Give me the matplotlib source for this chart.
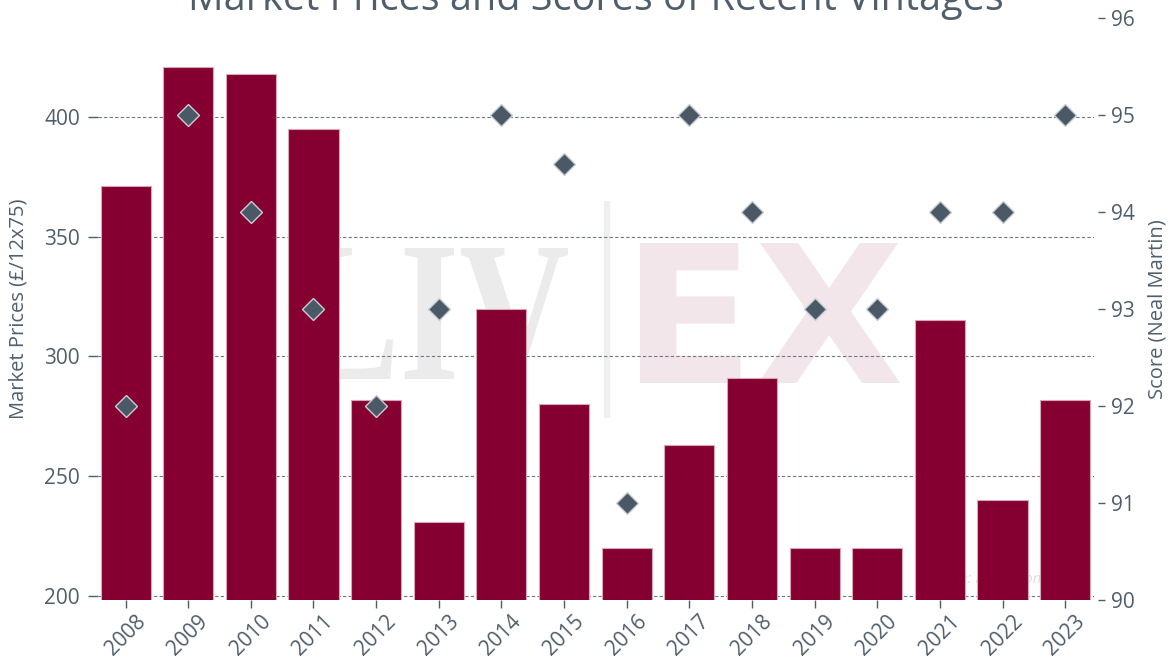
import matplotlib
matplotlib.use("Agg")
import matplotlib.pyplot as plt
from matplotlib.textpath import TextPath
from matplotlib.patches import PathPatch
from matplotlib.font_manager import FontProperties
from matplotlib.transforms import Affine2D

# vintage data
years = ["2008", "2009", "2010", "2011", "2012", "2013", "2014", "2015",
         "2016", "2017", "2018", "2019", "2020", "2021", "2022", "2023"]
prices = [371, 421, 418, 395, 282, 231, 320, 280,
          220, 263, 291, 220, 220, 315, 240, 282]
scores = [92, 95, 94, 93, 92, 93, 95, 94.5,
          91, 95, 94, 93, 93, 94, 94, 95]
price_ticks = [200, 250, 300, 350, 400]
score_ticks = [90, 91, 92, 93, 94, 95, 96]

text_col = "#505e6b"
bar_col = "#850030"
dot_col = "#4a5965"

plt.rcParams["font.family"] = ["Open Sans", "DejaVu Sans"]

fig = plt.figure(figsize=(11.7, 6.71), dpi=100)
ax = fig.add_axes([98 / 1170, 1 - 600 / 671, (1094 - 98) / 1170, 582 / 671])
ax2 = ax.twinx()

x = list(range(len(years)))


def watermark(text, prop, box, color):
    # squeeze a text outline into a box given in axes fractions (x0, y0, x1, y1)
    tp = TextPath((0, 0), text, size=1, prop=prop)
    ext = tp.get_extents()
    sx = (box[2] - box[0]) / ext.width
    sy = (box[3] - box[1]) / ext.height
    tr = Affine2D().translate(-ext.x0, -ext.y0).scale(sx, sy).translate(box[0], box[1])
    ax.add_patch(PathPatch(tp, transform=tr + ax.transAxes, color=color,
                           lw=0, zorder=0))


def frac(px, py):
    return (px - 98) / 996, (600 - py) / 582


lx0, ly0 = frac(300, 382)
lx1, ly1 = frac(568, 248)
watermark("LIV", FontProperties(family="Liberation Serif", weight="bold"),
          (lx0, ly0, lx1, ly1), "#ebebeb")
ex0, ey0 = frac(640, 383)
ex1, ey1 = frac(900, 243)
watermark("EX", FontProperties(family="DejaVu Sans", weight="bold"),
          (ex0, ey0, ex1, ey1), "#f3e6ea")
ax.plot([0.511, 0.511], [0.313, 0.685], transform=ax.transAxes, color="#efeff1",
        lw=4.5, zorder=0, solid_capstyle="butt")
ax.text(0.89, 0.035, "Source: Liv-ex.com", transform=ax.transAxes, fontsize=11,
        style="italic", color="#dcdcdc", ha="center", va="center", zorder=0)

ax.bar(x, prices, width=0.8, color=bar_col, edgecolor="#d8a5b5", linewidth=0.8,
       bottom=0, zorder=2)
ax.set_ylim(198.3, 441.3)
ax.set_xlim(-0.44, 15.46)
ax.set_yticks(price_ticks)
ax.set_xticks(x)
ax.set_xticklabels(years, rotation=45)
ax.grid(axis="y", color="#6f7882", linestyle=(0, (3, 2)), linewidth=0.8, zorder=1)
ax.set_axisbelow(True)
ax.tick_params(axis="y", length=7, width=1, color=text_col, labelcolor=text_col,
               labelsize=15, pad=6)
ax.tick_params(axis="x", length=6, width=1, color=text_col, labelcolor=text_col,
               labelsize=15, pad=2)
ax.set_ylabel("Market Prices (£/12x75)", color=text_col, fontsize=14.5, labelpad=11)

ax2.plot(x, scores, linestyle="none", marker="D", markersize=11,
         color=dot_col, markeredgecolor="#c8ced4", markeredgewidth=1, zorder=3)
ax2.set_ylim(90, 96)
ax2.set_yticks(score_ticks)
ax2.tick_params(axis="y", length=5, width=1, color=text_col, labelcolor=text_col,
                labelsize=15, pad=4)
ax2.spines["right"].set_position(("outward", 3))
ax2.set_ylabel("Score (Neal Martin)", color=text_col, fontsize=14.5, labelpad=9)

for a in (ax, ax2):
    for s in a.spines.values():
        s.set_visible(False)

fig.text(0.509, 1 - 10 / 671, "Market Prices and Scores of Recent Vintages",
         ha="center", va="baseline", fontsize=28.5, color=text_col)

fig.savefig("out.png", dpi=100)
